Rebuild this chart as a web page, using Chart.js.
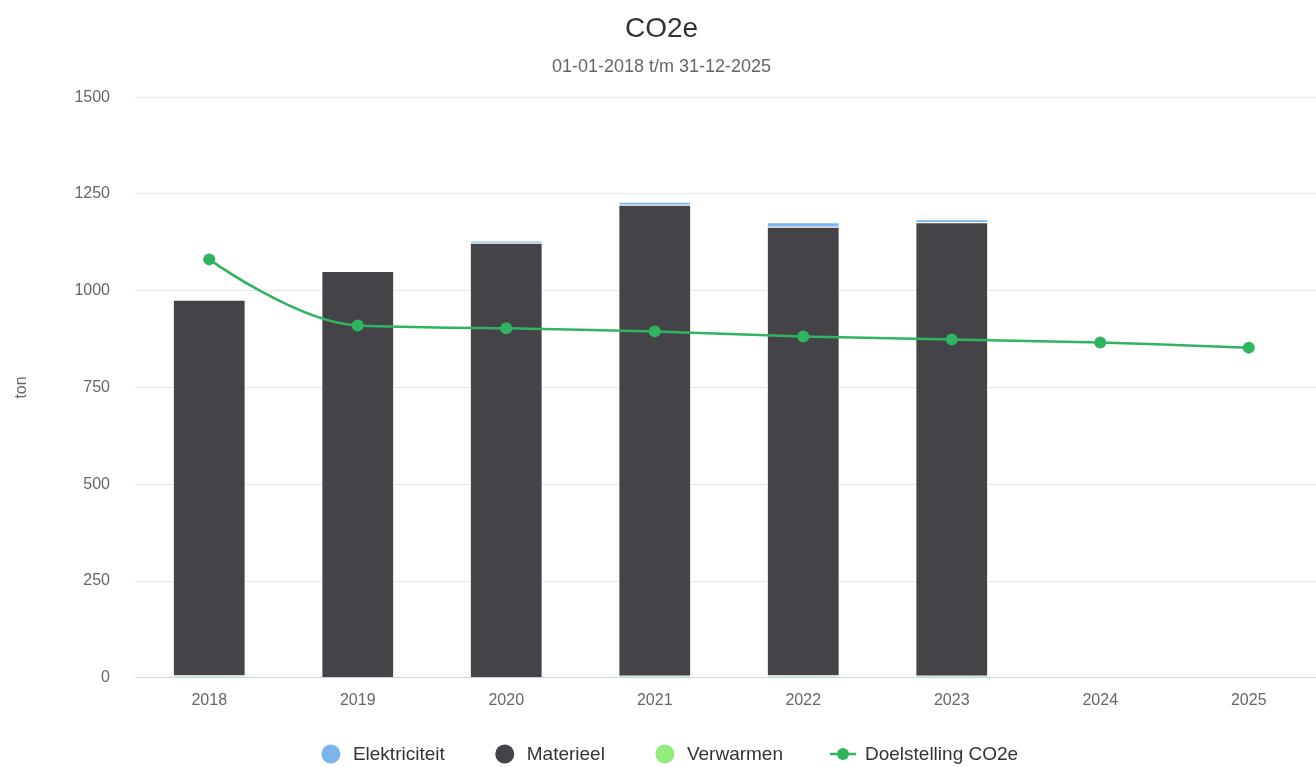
<!DOCTYPE html>
<html>
<head>
<meta charset="utf-8">
<script src="https://cdn.jsdelivr.net/npm/chart.js@4"></script>
<style>
  html, body { margin: 0; padding: 0; background: #fff; overflow: hidden; }
  #wrap { width: 1350px; height: 767px; }
</style>
</head>
<body>
<div id="wrap"><canvas id="co2" width="1350" height="767"></canvas></div>
<script>
const years = ['2018', '2019', '2020', '2021', '2022', '2023', '2024', '2025'];
const elektriciteit = [0, 0, 6, 8, 12, 8, null, null];
const materieel = [971, 1051, 1124, 1217, 1159, 1172, null, null];
const verwarmen = [6, 0, 0, 5, 6, 5, null, null];
const doelstelling = [1081, 910, 903, 895, 882, 874, 866, 853];
const yTicks = [0, 250, 500, 750, 1000, 1250, 1500];

const FONT = '"Liberation Sans", Arial, Helvetica, sans-serif';
const GREEN = '#2fb560';

// spline like the original: control points from the neighbours, clamped so no false extremes
const splinePlugin = {
    id: 'hcSpline',
    beforeDatasetDraw(chart, args) {
        const meta = args.meta;
        if (meta.type !== 'line') return;
        meta.dataset.updateControlPoints(chart.chartArea, 'x');
        const pts = meta.data;
        const sm = 1.5, den = sm + 1;
        pts.forEach((p, i) => {
            const prev = pts[i - 1], next = pts[i + 1];
            if (!prev || !next) {
                p.cp1x = p.cp2x = p.x;
                p.cp1y = p.cp2y = p.y;
                return;
            }
            const lx = (sm * p.x + prev.x) / den, rx = (sm * p.x + next.x) / den;
            let ly = (sm * p.y + prev.y) / den, ry = (sm * p.y + next.y) / den;
            if (rx !== lx) {
                const corr = ((ry - ly) * (rx - p.x)) / (rx - lx) + p.y - ry;
                ly += corr;
                ry += corr;
            }
            if (ly > prev.y && ly > p.y) { ly = Math.max(prev.y, p.y); ry = 2 * p.y - ly; }
            else if (ly < prev.y && ly < p.y) { ly = Math.min(prev.y, p.y); ry = 2 * p.y - ly; }
            if (ry > next.y && ry > p.y) { ry = Math.max(next.y, p.y); ly = 2 * p.y - ry; }
            else if (ry < next.y && ry < p.y) { ry = Math.min(next.y, p.y); ly = 2 * p.y - ry; }
            p.cp1x = lx; p.cp1y = ly;
            p.cp2x = rx; p.cp2y = ry;
        });
    }
};

// legend drawn by hand so the item spacing can follow the original
const legendPlugin = {
    id: 'bottomLegend',
    afterDraw(chart) {
        const ctx = chart.ctx;
        const sets = chart.data.datasets;
        ctx.save();
        ctx.font = '19px ' + FONT;
        const symW = 26, gap = 9, itemGap = 47;
        const widths = sets.map(d => symW + gap + ctx.measureText(d.label).width);
        const total = widths.reduce((a, b) => a + b, 0) + itemGap * (widths.length - 1);
        let x = chart.width / 2 - total / 2 - 7;
        const y = chart.height - 13;
        sets.forEach((ds, i) => {
            const cx = x + symW / 2;
            if (ds.type === 'line') {
                ctx.strokeStyle = ds.borderColor;
                ctx.lineWidth = 2.5;
                ctx.beginPath();
                ctx.moveTo(x, y);
                ctx.lineTo(x + symW, y);
                ctx.stroke();
                ctx.fillStyle = ds.borderColor;
                ctx.beginPath();
                ctx.arc(cx, y, 6, 0, Math.PI * 2);
                ctx.fill();
            } else {
                ctx.fillStyle = ds.backgroundColor;
                ctx.beginPath();
                ctx.arc(cx, y, 9.5, 0, Math.PI * 2);
                ctx.fill();
            }
            ctx.fillStyle = '#333333';
            ctx.textBaseline = 'middle';
            ctx.textAlign = 'left';
            ctx.fillText(ds.label, x + symW + gap, y + 1);
            x += widths[i] + itemGap;
        });
        ctx.restore();
    }
};

const barCommon = {
    type: 'bar',
    stack: 'co2',
    borderColor: '#ffffff',
    borderWidth: 1,
    categoryPercentage: 1,
    barPercentage: 0.49
};

new Chart(document.getElementById('co2'), {
    data: {
        labels: years,
        datasets: [
            Object.assign({}, barCommon, { label: 'Elektriciteit', data: elektriciteit, backgroundColor: '#7cb5ec', order: 3 }),
            Object.assign({}, barCommon, { label: 'Materieel', data: materieel, backgroundColor: '#434348', order: 2 }),
            Object.assign({}, barCommon, { label: 'Verwarmen', data: verwarmen, backgroundColor: '#90ed7d', order: 1 }),
            {
                type: 'line',
                label: 'Doelstelling CO2e',
                data: doelstelling,
                borderColor: GREEN,
                backgroundColor: GREEN,
                borderWidth: 2.5,
                pointRadius: 6,
                pointBackgroundColor: GREEN,
                pointBorderWidth: 0,
                tension: 0.4,
                order: 0
            }
        ]
    },
    plugins: [splinePlugin, legendPlugin],
    options: {
        responsive: false,
        animation: false,
        devicePixelRatio: 1,
        layout: { padding: { left: 0, right: 27, top: 0, bottom: 44 } },
        plugins: {
            legend: { display: false },
            tooltip: { enabled: false },
            title: {
                display: true,
                text: 'CO2e',
                color: '#333333',
                font: { family: FONT, size: 28, weight: 'normal' },
                padding: { top: 12, bottom: 0 }
            },
            subtitle: {
                display: true,
                text: '01-01-2018 t/m 31-12-2025',
                color: '#666666',
                font: { family: FONT, size: 18, weight: 'normal' },
                padding: { top: 11, bottom: 19 }
            }
        },
        scales: {
            x: {
                stacked: true,
                grid: { display: false, drawTicks: false },
                border: { color: '#ccd6eb', width: 1 },
                ticks: {
                    color: '#666666',
                    font: { family: FONT, size: 16 },
                    padding: 13,
                    maxRotation: 0
                }
            },
            y: {
                stacked: true,
                min: 0,
                max: 1500,
                afterFit(scale) { scale.width = 135; },
                afterBuildTicks(scale) { scale.ticks = yTicks.map(v => ({ value: v })); },
                grid: { color: '#e6e6e6', drawTicks: false },
                border: { display: false },
                ticks: {
                    color: '#666666',
                    font: { family: FONT, size: 16 },
                    padding: 25,
                    callback: v => String(v)
                },
                title: {
                    display: true,
                    text: 'ton',
                    color: '#666666',
                    font: { family: FONT, size: 16 },
                    padding: { top: 12, bottom: 0 }
                }
            }
        }
    }
});
</script>
</body>
</html>
